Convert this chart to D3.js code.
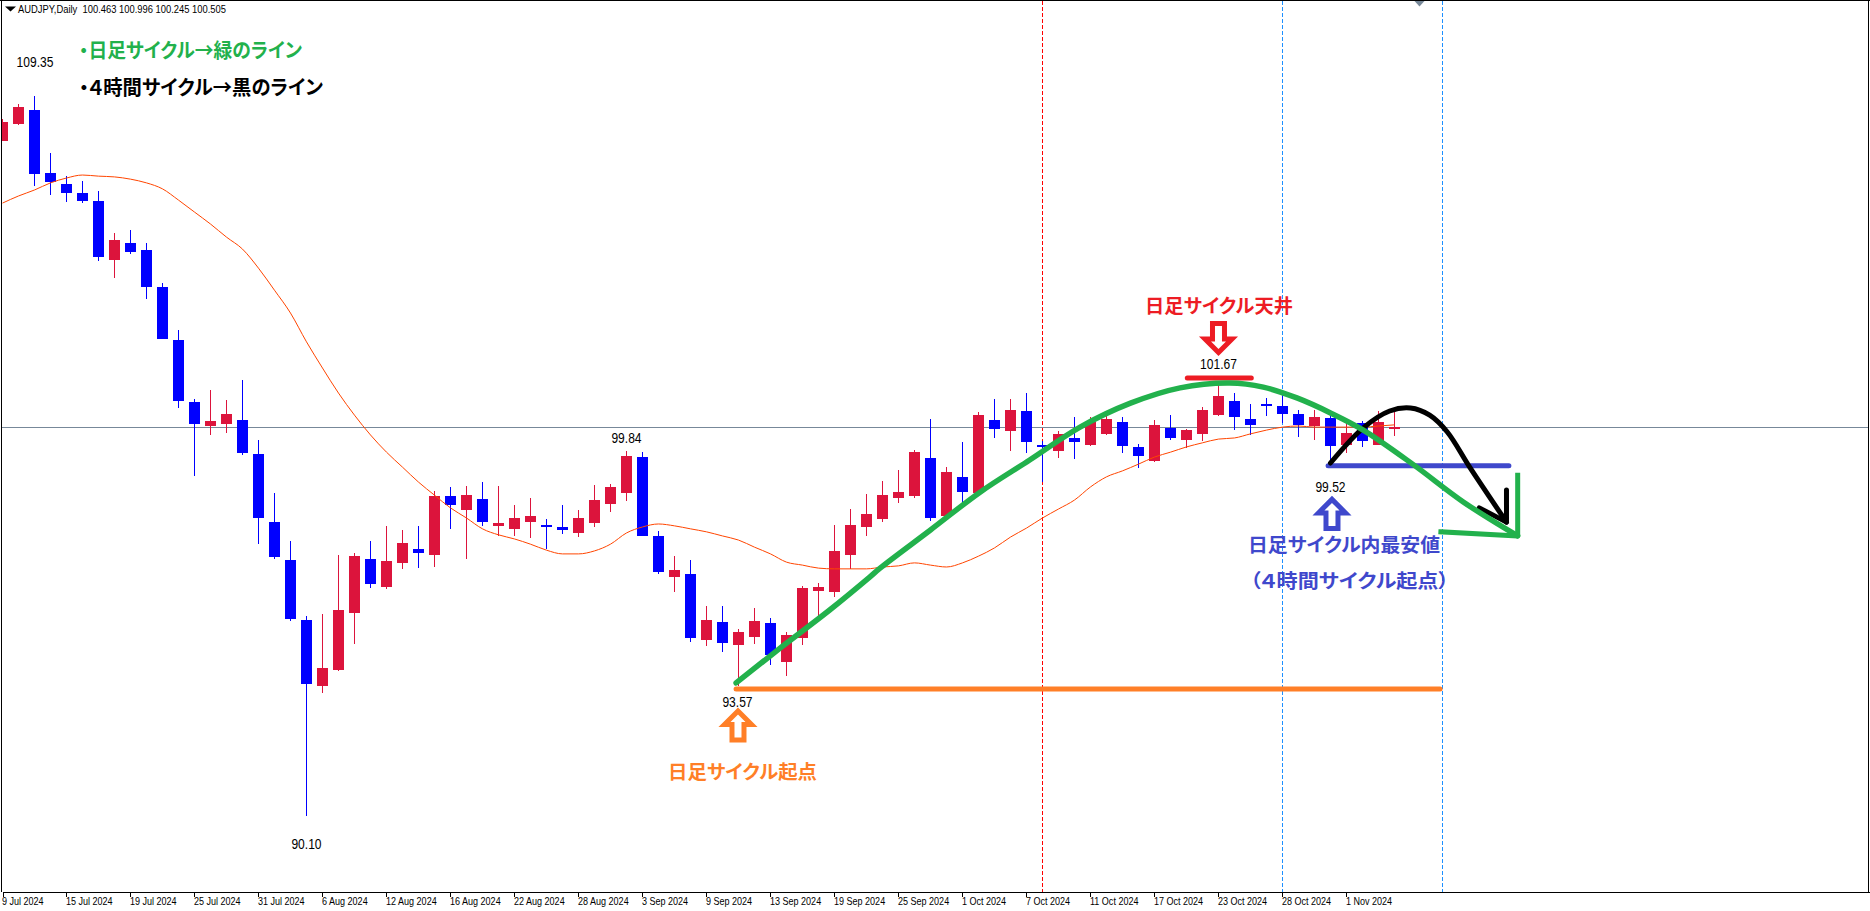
<!DOCTYPE html>
<html lang="ja"><head><meta charset="utf-8">
<script src="https://cdn.jsdelivr.net/npm/d3@7"></script>
<style>
html,body{margin:0;padding:0;background:#fff;overflow:hidden}
svg{display:block}
.num{font-family:"Liberation Sans",Arial,sans-serif;fill:#000}
.jp{font-family:"Noto Sans CJK JP","Noto Sans",sans-serif;font-weight:700;font-feature-settings:"palt"}
</style></head><body>
<script>
const opens=[108.14,108.59,108.97,107.28,106.99,106.75,106.54,104.96,105.41,105.22,104.24,102.82,101.16,100.52,100.57,100.68,99.77,97.95,96.94,95.33,93.57,94.00,95.52,96.96,96.22,96.86,97.23,97.07,98.65,98.27,98.56,97.85,97.77,97.95,97.87,97.82,97.66,97.93,98.43,98.73,99.69,97.58,96.48,96.56,94.80,95.28,94.66,94.88,95.25,94.21,94.85,96.11,96.08,97.07,97.82,98.03,98.59,98.65,99.66,98.11,99.16,98.73,100.68,100.39,100.92,100.01,99.85,100.20,100.01,100.31,100.63,99.96,99.58,100.47,100.15,100.31,100.81,101.19,100.71,101.11,101.05,100.84,100.52,100.73,100.01,100.60,100.01,100.463];
const closes=[108.65,109.05,107.26,107.04,106.75,106.54,105.04,105.49,105.17,104.24,102.85,101.19,100.57,100.65,100.84,99.80,98.06,97.02,95.36,93.62,94.05,95.60,97.04,96.30,96.91,97.39,97.12,98.65,98.41,98.67,97.95,97.93,98.06,98.11,97.82,97.74,98.06,98.54,98.89,99.72,97.58,96.62,96.67,94.85,95.33,94.72,95.01,95.31,94.40,94.93,96.19,96.22,97.18,97.87,98.17,98.67,98.75,99.82,98.06,99.29,98.75,100.81,100.44,100.95,100.09,99.96,100.31,100.09,100.63,100.71,99.98,99.72,100.55,100.20,100.41,100.95,101.32,100.76,100.55,101.05,100.84,100.55,100.76,99.98,100.33,100.12,100.63,100.505];
const highs=[108.73,109.13,109.35,107.82,107.20,107.07,106.80,105.68,105.76,105.41,104.34,103.09,101.24,101.48,101.21,101.75,100.15,98.73,97.44,95.44,95.49,97.07,97.12,97.44,97.85,97.74,97.85,98.78,98.89,98.92,99.02,98.92,98.41,98.59,98.03,98.41,98.27,98.94,98.97,99.84,99.82,97.71,97.04,96.94,95.71,95.71,95.09,95.65,95.39,95.01,96.24,96.32,97.87,98.30,98.70,99.05,99.34,99.88,100.71,99.42,100.09,100.89,101.24,101.24,101.40,100.12,100.39,100.76,100.76,100.89,100.76,100.04,100.68,100.81,100.44,101.03,101.67,101.40,101.11,101.27,101.35,100.95,100.95,100.92,100.60,100.65,100.92,100.996];
const lows=[108.14,108.57,106.94,106.70,106.51,106.48,104.93,104.48,105.12,103.92,102.85,101.00,99.18,100.28,100.33,99.74,97.36,96.96,95.31,90.10,93.38,93.97,94.69,96.19,96.16,96.70,96.72,96.75,97.77,96.96,97.85,97.58,97.58,97.52,97.23,97.63,97.55,97.82,98.22,98.51,97.58,96.56,96.08,94.74,94.64,94.48,93.57,94.69,94.13,93.84,94.66,95.28,95.95,96.70,97.58,97.95,98.46,98.59,97.98,98.11,98.41,98.73,100.20,99.85,99.80,99.02,99.66,99.64,99.98,100.28,99.80,99.40,99.56,100.15,99.93,100.12,100.79,100.41,100.28,100.79,100.60,100.23,100.15,99.52,99.80,99.96,100.01,100.245];
const movingAvg=[106.48,106.67,106.83,107.02,107.15,107.23,107.20,107.18,107.12,107.02,106.86,106.56,106.24,105.92,105.57,105.25,104.74,104.15,103.54,102.77,102.07,101.40,100.81,100.28,99.82,99.42,99.02,98.67,98.33,98.06,97.77,97.61,97.50,97.36,97.20,97.10,97.10,97.18,97.36,97.66,97.82,97.90,97.85,97.77,97.69,97.58,97.47,97.28,97.10,96.88,96.80,96.72,96.70,96.70,96.70,96.75,96.78,96.86,96.80,96.75,96.86,97.04,97.26,97.55,97.79,98.06,98.30,98.54,98.89,99.16,99.32,99.50,99.69,99.82,99.96,100.07,100.17,100.20,100.31,100.41,100.49,100.52,100.49,100.49,100.49,100.49,100.52,100.55];
const tickLabels=["9 Jul 2024","15 Jul 2024","19 Jul 2024","25 Jul 2024","31 Jul 2024","6 Aug 2024","12 Aug 2024","16 Aug 2024","22 Aug 2024","28 Aug 2024","3 Sep 2024","9 Sep 2024","13 Sep 2024","19 Sep 2024","25 Sep 2024","1 Oct 2024","7 Oct 2024","11 Oct 2024","17 Oct 2024","23 Oct 2024","28 Oct 2024","1 Nov 2024"];
const tickEvery=4;
// annotations as [bar, price]
const greenCycle=[[45.85,93.65],[48.6,94.58],[51.7,95.60],[54.2,96.48],[54.85,96.72],[58,97.74],[61.1,98.75],[64.2,99.61],[67.35,100.49],[70.5,101.13],[73.6,101.54],[76.7,101.67],[78.8,101.56],[80.9,101.27],[83,100.87],[85.05,100.41],[88.2,99.48],[91.3,98.49],[94.7,97.58]];
const greenHead=[[89.9,97.69],[94.7,97.58],[94.7,99.2]];
const blackCycle=[[83,99.53],[85.05,100.47],[86.7,100.92],[88,101.0],[89.2,100.81],[90.3,100.36],[91.7,99.42],[94,97.95]];
const blackHead=[[92.3,98.33],[94,97.95],[94,98.81]];
const startLevel=[[45.85,93.49],[89.85,93.49]];
const lowLevel=[[82.85,99.46],[94.15,99.46]];
const topLevel=[[74.05,101.80],[78.05,101.80]];
const redSeparators=[65];
const blueSeparators=[80,90];
const priceLabels=[[2,109.35,"109.35",-29,0.5],[19,90.10,"90.10",33,0],[39,99.84,"99.84",-8,0],[46,93.57,"93.57",21,-1],[76,101.67,"101.67",-14,0],[83,99.52,"99.52",29,0]];
const jpLabels=[
 ["・日足サイクル→緑のライン",79,58,223,20,"#22B14C"],
 ["・４時間サイクル→黒のライン",79,95,244,20,"#000"],
 ["日足サイクル天井",1145,313,148,19,"#ED1C24"],
 ["日足サイクル起点",668,779,149,19,"#FF7F27"],
 ["日足サイクル内最安値",1248,552,192,19,"#3F48CC"],
 ["（４時間サイクル起点）",1250,588,199,19,"#3F48CC"]];

const W=1870,H=911,axisY=892;
const x=d3.scaleLinear().domain([0,116.72]).range([2.5,1870]);
const y=d3.scaleLinear().domain([88.06,111.91]).range([axisY,0]);
const svg=d3.select("body").append("svg").attr("width",W).attr("height",H);
svg.append("rect").attr("width",W).attr("height",H).attr("fill","#fff");
const defs=svg.append("defs");
defs.append("clipPath").attr("id","plot").append("rect").attr("x",2).attr("y",1).attr("width",W-3).attr("height",axisY-1);
const plot=svg.append("g").attr("clip-path","url(#plot)");
const n=closes.length, idx=d3.range(n);
const up=i=>closes[i]>=opens[i];
const col=i=>up(i)?"#DC143C":"#0000FF";
const cx=i=>Math.round(x(i)-0.5);
const condense=(sel,f)=>sel.each(function(){this.setAttribute("textLength",this.getComputedTextLength()*f);this.setAttribute("lengthAdjust","spacingAndGlyphs");});
// separators
const vsep=plot.append("g").attr("stroke-width",1).attr("stroke-dasharray","4,2").attr("shape-rendering","crispEdges");
redSeparators.forEach(b=>vsep.append("line").attr("x1",cx(b)+.5).attr("x2",cx(b)+.5).attr("y1",1).attr("y2",axisY).attr("stroke","#FF0000"));
blueSeparators.forEach(b=>vsep.append("line").attr("x1",cx(b)+.5).attr("x2",cx(b)+.5).attr("y1",1).attr("y2",axisY).attr("stroke","#1E90FF"));
// bid line
plot.append("line").attr("x1",2).attr("x2",W).attr("y1",Math.round(y(closes[n-1]))+.5).attr("y2",Math.round(y(closes[n-1]))+.5).attr("stroke","#778899").attr("stroke-width",1).attr("shape-rendering","crispEdges");
// candles
const c=plot.append("g").attr("shape-rendering","crispEdges");
c.selectAll("rect.w").data(idx).join("rect").attr("class","w").attr("x",cx).attr("width",1)
 .attr("y",i=>Math.round(y(highs[i]))).attr("height",i=>Math.max(1,Math.round(y(lows[i]))-Math.round(y(highs[i])))).attr("fill",col);
c.selectAll("rect.b").data(idx).join("rect").attr("class","b").attr("x",i=>cx(i)-5).attr("width",11)
 .attr("y",i=>Math.round(y(Math.max(opens[i],closes[i]))))
 .attr("height",i=>Math.max(2,Math.round(y(Math.min(opens[i],closes[i])))-Math.round(y(Math.max(opens[i],closes[i])))))
 .attr("fill",col);
// moving average
plot.append("path").attr("d",d3.line().x(i=>x(i)).y(i=>y(movingAvg[i])).curve(d3.curveMonotoneX)(idx)).attr("fill","none").attr("stroke","#FF4500").attr("stroke-width",1);
// hand-drawn annotations
const lineLin=d3.line().x(d=>x(d[0])).y(d=>y(d[1]));
const lineCurve=d3.line().x(d=>x(d[0])).y(d=>y(d[1])).curve(d3.curveCatmullRom.alpha(.5));
const stroke=(d,color,w,cap)=>plot.append("path").attr("d",d).attr("fill","none").attr("stroke",color).attr("stroke-width",w).attr("stroke-linecap",cap||"round").attr("stroke-linejoin","round");
stroke(lineLin(startLevel),"#FF7F27",5);
stroke(lineLin(lowLevel),"#3F48CC",5);
stroke(lineLin(topLevel),"#ED1C24",5);
stroke(lineCurve(blackCycle),"#000",5);
stroke(lineLin(blackHead),"#000",5);
stroke(lineCurve(greenCycle),"#22B14C",5.5);
stroke(lineLin(greenHead),"#22B14C",5,"square");
// block arrows
function blockArrow(bar,price,dx,dy,dir,color){
  const pts=[[0,2.5],[13.5,16],[6,16],[6,31.5],[-6,31.5],[-6,16],[-13.5,16]].map(p=>[p[0],p[1]*dir]);
  plot.append("path").attr("transform",`translate(${x(bar)+dx},${y(price)+dy})`)
   .attr("d",d3.line()(pts)+"Z").attr("fill","#fff").attr("stroke",color).attr("stroke-width",5).attr("stroke-linejoin","miter");
}
blockArrow(46,93.57,-0.5,22.5,1,"#FF7F27");
blockArrow(83,99.52,1.5,33.5,1,"#3F48CC");
blockArrow(76,101.67,0,-28,-1,"#ED1C24");
// price labels
const pl=svg.append("g").selectAll("text").data(priceLabels).join("text").attr("class","num").attr("font-size",14)
 .attr("text-anchor","middle").attr("x",d=>x(d[0])+d[4]).attr("y",d=>y(d[1])+d[3]).text(d=>d[2]);
condense(pl,.86);
// japanese labels
svg.append("g").selectAll("text").data(jpLabels).join("text").attr("class","jp")
 .attr("x",d=>d[1]).attr("y",d=>d[2]).attr("font-size",d=>d[4]).attr("fill",d=>d[5])
 .attr("textLength",d=>d[3]).attr("lengthAdjust","spacingAndGlyphs").text(d=>d[0]);
// header
svg.append("path").attr("d","M5,6.5 h11 l-5.5,5 Z").attr("fill","#000");
svg.append("text").attr("class","num").attr("font-size",11).attr("x",18).attr("y",13).attr("textLength",208).attr("lengthAdjust","spacingAndGlyphs").style("white-space","pre").text("AUDJPY,Daily  100.463 100.996 100.245 100.505");
// top-of-chart marker
svg.append("path").attr("d","M1414.5,1 h10 l-5,5.5 Z").attr("fill","#778899");
// axis
const axis=d3.axisBottom(x).tickValues(tickLabels.map((_,i)=>i*tickEvery)).tickFormat((_,i)=>tickLabels[i]).tickSize(5).tickSizeOuter(0);
const gx=svg.append("g").attr("transform",`translate(0,${axisY})`).call(axis);
gx.selectAll("path,line").attr("stroke","#000").attr("shape-rendering","crispEdges");
const tt=gx.selectAll("text").attr("class","num").attr("font-size",11).attr("fill","#000").attr("text-anchor","start").attr("x",-1).attr("dy",null).attr("y",13);
condense(tt,.82);
// frame
const fr=svg.append("g").attr("stroke","#000").attr("shape-rendering","crispEdges");
fr.append("line").attr("x1",0).attr("x2",W).attr("y1",.5).attr("y2",.5);
fr.append("line").attr("x1",1.5).attr("x2",1.5).attr("y1",0).attr("y2",axisY);
fr.append("line").attr("x1",W-1.5).attr("x2",W-1.5).attr("y1",0).attr("y2",axisY);
</script>
</body></html>
